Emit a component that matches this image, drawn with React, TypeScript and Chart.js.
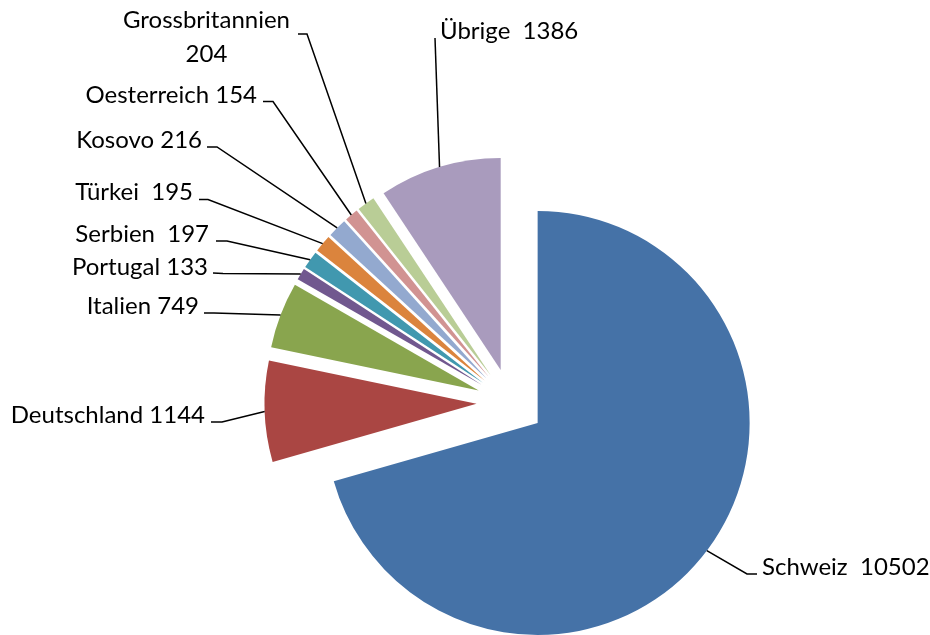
import React, { useEffect, useRef } from 'react';
import { Chart, registerables, ArcElement, PieController } from 'chart.js';

// ---- data ----
const categories = ['Schweiz', 'Deutschland', 'Italien', 'Portugal', 'Serbien', 'Türkei', 'Kosovo', 'Oesterreich', 'Grossbritannien', 'Übrige'];
const values = [10502, 1144, 749, 133, 197, 195, 216, 154, 204, 1386];
const labelSeparators = ['  ', ' ', ' ', ' ', '  ', '  ', ' ', ' ', '\n', '  '];
const sliceColors = ['#4572A7', '#AA4643', '#89A54E', '#71588F', '#4198AF', '#DB843D', '#93A9CF', '#D19392', '#B9CD96', '#A99BBD'];

// ---- label layout (annotation positions in canvas px) ----
const labelAnchors: [number, number][] = [
  [757, 574], [211, 422], [204, 313], [213, 273], [216, 241],
  [199, 199.5], [207, 147], [263, 101.5], [298, 34], [435, 38],
];
const labelElbows: [number, number][] = [
  [747, 574], [222, 422], [214, 313], [223, 273.5], [227, 241],
  [208, 199.5], [217, 147], [273, 101.5], [307, 34], [435, 38],
];
const labelSides = ['right', 'left', 'left', 'left', 'left', 'left', 'left', 'left', 'left', 'right'];
const labelTextOffsets: [number, number][] = [
  [5, 1], [-6, 1], [-5, 1], [-5, 2], [-7, 1],
  [-6, 0], [-5, 1], [-6, 1.5], [-8, -6], [5, 1],
];

const EXPLODE = 34;
const RADIUS = 212;

class ExplodedArc extends ArcElement {
  static id = 'explodedArc';
  draw(ctx: CanvasRenderingContext2D) {
    const self: any = this;
    const { x, y, startAngle, endAngle, outerRadius } = self;
    const opts = self.options;
    const d = opts.offset || 0;
    const mid = (startAngle + endAngle) / 2;
    ctx.save();
    ctx.translate(Math.cos(mid) * d, Math.sin(mid) * d);
    ctx.beginPath();
    ctx.moveTo(x, y);
    ctx.arc(x, y, outerRadius, startAngle, endAngle);
    ctx.closePath();
    ctx.fillStyle = opts.backgroundColor;
    ctx.fill();
    ctx.restore();
  }
}

class ExplodedPieController extends PieController {
  static id = 'explodedPie';
  static defaults = { dataElementType: 'explodedArc' };
}

Chart.register(...registerables, ExplodedArc, ExplodedPieController);

const leaderLabels = {
  id: 'leaderLabels',
  afterDatasetsDraw(chart: any) {
    const ctx: CanvasRenderingContext2D = chart.ctx;
    const meta = chart.getDatasetMeta(0);
    ctx.save();
    ctx.font = '24px Lato';
    ctx.fillStyle = '#000';
    ctx.strokeStyle = '#000';
    ctx.lineWidth = 1.5;
    ctx.textBaseline = 'alphabetic';
    meta.data.forEach((el: any, i: number) => {
      const { x, y, startAngle, endAngle, outerRadius } = el;
      const d = el.options.offset || 0;
      const mid = (startAngle + endAngle) / 2;
      const r = outerRadius + d;
      const px = x + Math.cos(mid) * r;
      const py = y + Math.sin(mid) * r;
      const [ax, ay] = labelAnchors[i];
      const [ex, ey] = labelElbows[i];
      ctx.beginPath();
      ctx.moveTo(px, py);
      ctx.lineTo(ex, ey);
      ctx.lineTo(ax, ay);
      ctx.stroke();

      const lines = (categories[i] + labelSeparators[i] + values[i]).split('\n');
      const widths = lines.map((l) => ctx.measureText(l).width);
      const bw = Math.max(...widths);
      const [dx, dy] = labelTextOffsets[i];
      const blockLeft = labelSides[i] === 'left' ? ax + dx - bw : ax + dx;
      lines.forEach((l, k) => {
        ctx.textAlign = 'center';
        ctx.fillText(l, blockLeft + bw / 2, ay + dy + k * 34);
      });
    });
    ctx.restore();
  },
};

export default function App() {
  const ref = useRef<HTMLCanvasElement>(null);
  useEffect(() => {
    if (!ref.current) return;
    const chart = new Chart(ref.current, {
      type: 'explodedPie' as any,
      data: {
        labels: categories,
        datasets: [
          {
            data: values,
            backgroundColor: sliceColors,
            borderWidth: 0,
            offset: EXPLODE,
            radius: RADIUS,
            clip: false,
          } as any,
        ],
      },
      options: {
        animation: false,
        responsive: false,
        events: [],
        radius: RADIUS,
        layout: { padding: { left: 91, right: 0, top: 170, bottom: 0 } },
        plugins: { legend: { display: false }, tooltip: { enabled: false } },
      } as any,
      plugins: [leaderLabels],
    });
    return () => chart.destroy();
  }, []);
  return (
    <div style={{ position: 'absolute', left: 0, top: 0, width: 930, height: 635, background: '#fff' }}>
      <canvas ref={ref} width={930} height={635} />
    </div>
  );
}
